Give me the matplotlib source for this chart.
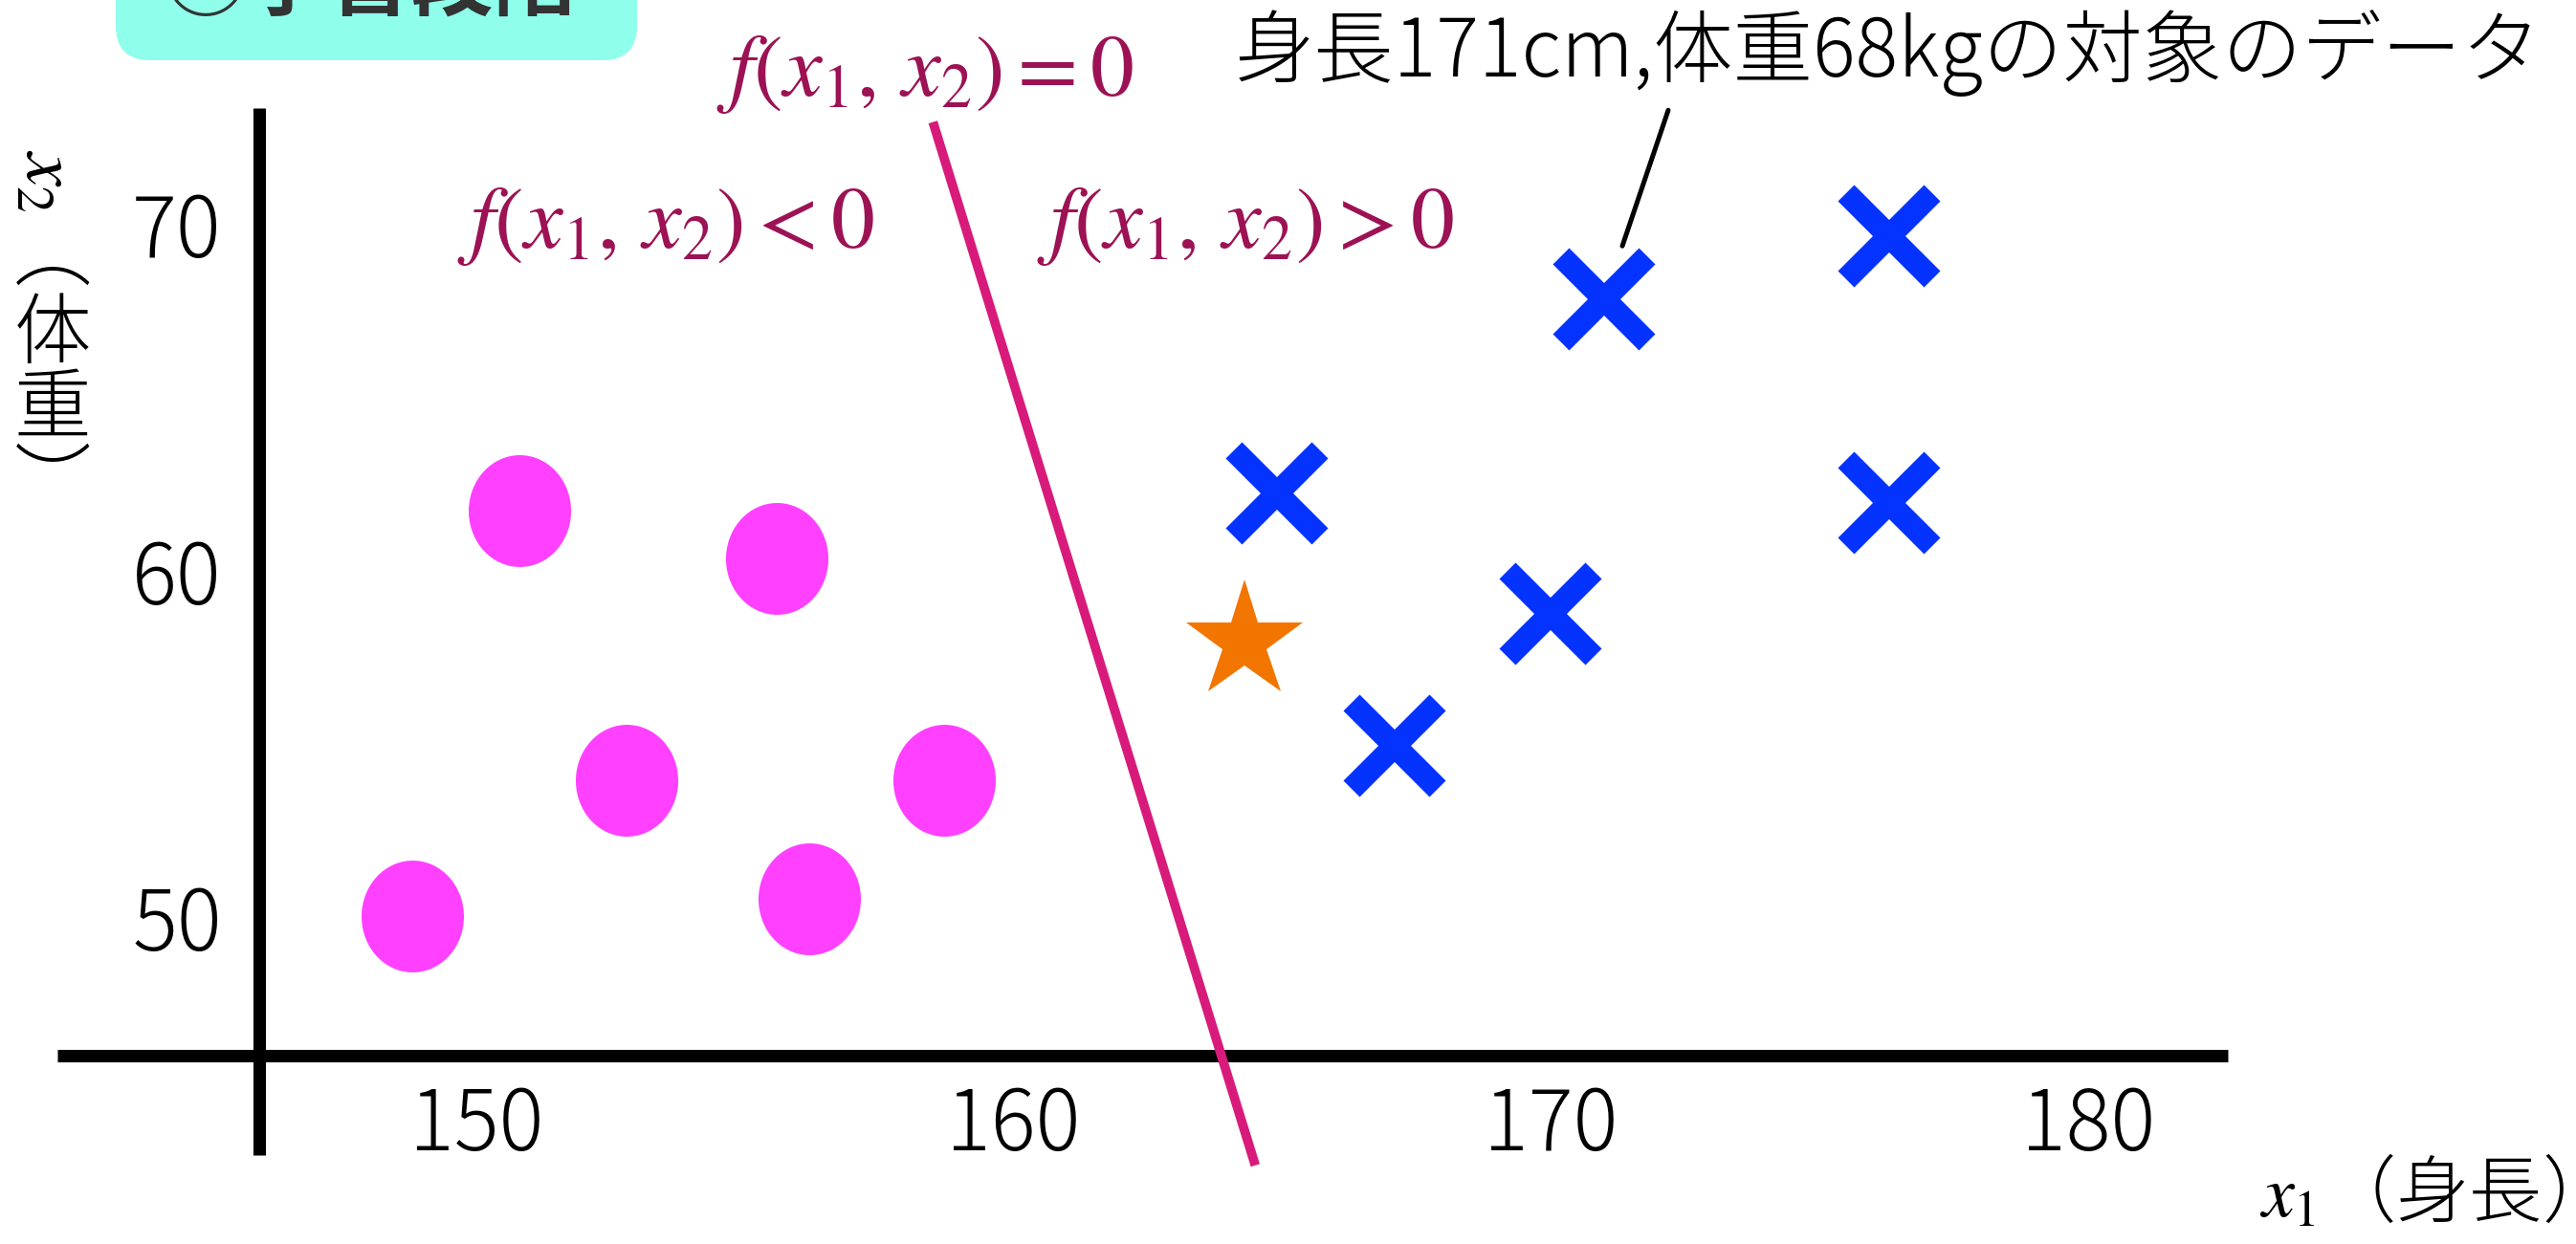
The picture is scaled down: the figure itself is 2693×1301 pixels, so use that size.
import matplotlib
matplotlib.use("Agg")
import matplotlib.pyplot as plt
import numpy as np
from matplotlib.path import Path
from matplotlib.patches import FancyBboxPatch
from matplotlib.transforms import IdentityTransform

plt.rcParams['font.family'] = ['Noto Sans CJK JP', 'DejaVu Sans']
plt.rcParams['mathtext.fontset'] = 'stix'

# height (cm) / weight (kg) of the two classes
circle_height = [150.8, 155.6, 152.8, 158.7, 148.8, 156.2]
circle_weight = [61.9, 60.5, 54.1, 54.1, 50.2, 50.7]
cross_height = [164.9, 167.1, 170.0, 171.0, 176.3, 176.3]
cross_weight = [62.4, 55.1, 58.9, 68.0, 69.8, 62.1]
# new sample to classify
query_height = [164.3]
query_weight = [58.1]
# decision boundary f(x1, x2) = 0
boundary_height = [158.5, 164.5]
boundary_weight = [73.1, 43.0]

x_ticks = [150, 160, 170, 180]
y_ticks = [50, 60, 70]

W, H = 2693, 1301
fig = plt.figure(figsize=(W / 100, H / 100), dpi=100)
ax = fig.add_axes([0, 0, 1, 1])
ax.set_xlim(141.133, 189.085)
ax.set_ylim(40.731, 76.621)
ax.axis('off')

# axes drawn by hand
ax.plot([142.2, 182.6], [46.17, 46.17], color='black', lw=9.4, solid_capstyle='butt', zorder=2)
ax.plot([145.96, 145.96], [43.3, 73.5], color='black', lw=9.4, solid_capstyle='butt', zorder=2)

for t in x_ticks:
    ax.text(t, 44.13, str(t), ha='center', va='center', fontsize=63,
            fontweight='light', color='black')
for t in y_ticks:
    ax.text(145.26, t - 0.12, str(t), ha='right', va='center', fontsize=63,
            fontweight='light', color='black')

# axis labels (y label written vertically)
ax.text(183.19, 42.14, r'$x_1$（身長）', ha='left', va='center', fontsize=55,
        fontweight='light')
ax.text(142.02, 71.41, r'$x_2$', rotation=-90, ha='center', va='center', fontsize=57)
ax.text(142.11, 69.2, '︵', ha='center', va='center', fontsize=58, fontweight='light')
ax.text(142.11, 66.93, '体', ha='center', va='center', fontsize=58, fontweight='light')
ax.text(142.11, 64.78, '重', ha='center', va='center', fontsize=58, fontweight='light')
ax.text(142.11, 62.6, '︶', ha='center', va='center', fontsize=58, fontweight='light')

# boundary line
ax.plot(boundary_height, boundary_weight, color='#D81B7A', lw=7, solid_capstyle='butt', zorder=3)

# points
t = np.linspace(0, 2 * np.pi, 120)
ellipse = Path(np.column_stack([0.915 * np.cos(t), np.sin(t)]), closed=True)
ax.scatter(circle_height, circle_weight, marker=ellipse, s=84.2 ** 2,
           color='#FF40FF', linewidths=0, zorder=4)
ax.plot(cross_height, cross_weight, ls='none', marker='x', ms=65, mew=17.3,
        color='#0433FF', zorder=4)
ax.plot(query_height, query_weight, ls='none', marker='*', ms=93, mew=0,
        color='#F27500', zorder=4)

# formula labels
fcol = '#9C1254'
ax.text(158.35, 74.58, r'$f(x_1,\,x_2)=0$', ha='center', va='center', fontsize=66, color=fcol)
ax.text(153.53, 70.18, r'$f(x_1,\,x_2)<0$', ha='center', va='center', fontsize=66, color=fcol)
ax.text(164.32, 70.18, r'$f(x_1,\,x_2)>0$', ha='center', va='center', fontsize=66, color=fcol)

# callout for one sample
ax.text(164.12, 75.08, '身長171cm,体重68kgの対象のデータ', ha='left', va='center',
        fontsize=60, fontweight='light', color='black')
ax.annotate('', xy=(171.0, 68.0), xytext=(48, 142), textcoords='offset points',
            arrowprops=dict(arrowstyle='-', lw=3.6, color='black', shrinkA=0, shrinkB=42))

# heading tab, cut off at the top edge
box = FancyBboxPatch((121, H - 63), 545, 160, boxstyle='round,pad=0,rounding_size=36',
                     transform=IdentityTransform(), facecolor='#8FFFEC', edgecolor='none',
                     zorder=1)
fig.patches.append(box)
fig.text(387, H - 9, '①学習段階', transform=IdentityTransform(), ha='center',
         va='baseline', fontsize=62, fontweight='bold', color='#333333', zorder=2)

fig.savefig('out.png', dpi=100)
